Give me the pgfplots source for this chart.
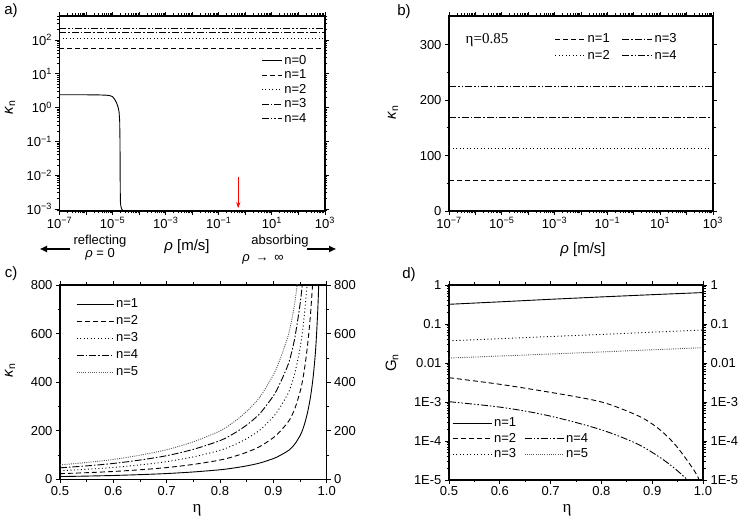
\documentclass[border=0pt]{standalone}
\usepackage{fontspec}
\setmainfont{Liberation Sans}
\newfontfamily\serif{Liberation Serif}
\usepackage{pgfplots}
\pgfplotsset{compat=1.18}
\usetikzlibrary{arrows.meta}

% minor tick lists for the log axes
\def\logminx{1e-7}
\foreach \e in {-7,...,2}{\foreach \m in {2,...,9}{\xdef\logminx{\logminx,\m e\e}}}
\def\logminya{1e-4}
\foreach \e in {-4,...,2}{\foreach \m in {2,...,9}{\xdef\logminya{\logminya,\m e\e}}}
\def\logminyd{1e-5}
\foreach \e in {-5,...,-1}{\foreach \m in {2,...,9}{\xdef\logminyd{\logminyd,\m e\e}}}

\newcommand\tk{\fontsize{13}{14}\selectfont}
\newcommand\lgd{\fontsize{13}{14}\selectfont}
\newcommand\lb{\fontsize{15}{16}\selectfont}

\tikzset{
  l0/.style={solid, line width=0.9pt},
  l1/.style={dash pattern=on 5pt off 3pt, line width=0.9pt},
  l2/.style={dash pattern=on 1pt off 2.5pt, line width=0.9pt},
  l3/.style={dash pattern=on 7pt off 2pt on 1.5pt off 2pt, line width=0.9pt},
  l4/.style={dash pattern=on 7pt off 2pt on 1.5pt off 2pt on 1.5pt off 2pt, line width=0.9pt},
  l5/.style={dash pattern=on 1pt off 1.2pt, line width=0.9pt, black!65},
}

\pgfplotsset{
  panel/.style={
    scale only axis, anchor=south west,
    axis line style={line width=1.4pt},
    every tick/.style={black, line width=0.8pt},
    major tick length=4pt, minor tick length=2.5pt,
    tick align=outside,
    ticklabel style={font=\tk},
    xticklabel style={yshift=1pt},
    /pgf/number format/assume math mode=true,
    legend style={draw=none, fill=none, font=\lgd, row sep=0pt, inner sep=0pt},
    legend cell align=left,
  },
}

\begin{document}
\begin{tikzpicture}
\path[use as bounding box] (0,0) rectangle (750pt,524pt);

% ---------------- a)
\begin{axis}[panel, at={(59.5pt,313pt)}, width=265.5pt, height=195pt,
  xmode=log, ymode=log, xmin=1e-7, xmax=1e3, ymin=8.7e-4, ymax=513,
  xtick={1e-7,1e-6,1e-5,1e-4,1e-3,1e-2,1e-1,1e0,1e1,1e2,1e3},
  xticklabels={10\textsuperscript{−7},,10\textsuperscript{−5},,10\textsuperscript{−3},,10\textsuperscript{−1},,10\textsuperscript{1},,10\textsuperscript{3}},
  minor xtick/.expand once=\logminx,
  ytick={1e-3,1e-2,1e-1,1,10,100},
  yticklabels={10\textsuperscript{−3},10\textsuperscript{−2},10\textsuperscript{−1},10\textsuperscript{0},10\textsuperscript{1},10\textsuperscript{2}},
  minor ytick/.expand once=\logminya,
  legend image code/.code={\draw[#1] (0pt,0pt) -- (20pt,0pt);},
  legend style={at={(0.76,0.81)}, anchor=north west},
]
\addplot[l0] coordinates {
  (1e-7,2.40) (1e-6,2.39) (3e-6,2.37) (6e-6,2.32) (8e-6,2.25) (1e-5,2.1)
  (1.2e-5,1.75) (1.4e-5,1.4) (1.6e-5,1.05) (1.75e-5,0.75) (1.85e-5,0.4)
  (1.9e-5,0.1) (1.92e-5,0.02) (1.94e-5,0.004) (1.97e-5,0.0016)
  (2.05e-5,0.0012) (2.2e-5,0.001) (2.6e-5,0.0008)
}; \addlegendentry{n=0}
\addplot[l1] coordinates {(1e-7,56) (1e3,56)}; \addlegendentry{n=1}
\addplot[l2] coordinates {(1e-7,113) (1e3,113)}; \addlegendentry{n=2}
\addplot[l3] coordinates {(1e-7,169) (1e3,169)}; \addlegendentry{n=3}
\addplot[l4] coordinates {(1e-7,225) (1e3,225)}; \addlegendentry{n=4}
\draw[red, line width=1pt, -{Stealth[length=6pt,width=4pt]}] (axis cs:0.54,0.009) -- (axis cs:0.54,0.00105);
\end{axis}

% ---------------- b)
\begin{axis}[panel, at={(449pt,313pt)}, width=264pt, height=195pt,
  xmode=log, xmin=1e-7, xmax=1e3, ymin=0, ymax=352,
  xtick={1e-7,1e-6,1e-5,1e-4,1e-3,1e-2,1e-1,1e0,1e1,1e2,1e3},
  xticklabels={10\textsuperscript{−7},,10\textsuperscript{−5},,10\textsuperscript{−3},,10\textsuperscript{−1},,10\textsuperscript{1},,10\textsuperscript{3}},
  minor xtick/.expand once=\logminx,
  ytick={0,100,200,300}, minor y tick num=1,
  legend columns=2,
  legend image code/.code={\draw[#1] (0pt,0pt) -- (30pt,0pt);},
  legend style={at={(0.40,0.92)}, anchor=north west, row sep=2pt, /tikz/every even column/.append style={column sep=10pt}},
]
\addplot[l1] coordinates {(1e-7,56) (1e3,56)}; \addlegendentry{n=1}
\addplot[l3] coordinates {(1e-7,169) (1e3,169)}; \addlegendentry{n=3}
\addplot[l2] coordinates {(1e-7,113) (1e3,113)}; \addlegendentry{n=2}
\addplot[l4] coordinates {(1e-7,225) (1e3,225)}; \addlegendentry{n=4}
\end{axis}

% ---------------- c)
\begin{axis}[panel, at={(60pt,44.5pt)}, width=266.7pt, height=194.5pt,
  xmin=0.5, xmax=1, ymin=0, ymax=800,
  xtick={0.5,0.6,0.7,0.8,0.9,1.0}, minor x tick num=1,
  xticklabel style={/pgf/number format/.cd, fixed, fixed zerofill, precision=1},
  ytick={0,200,400,600,800}, minor y tick num=1,
  legend image code/.code={\draw[#1] (0pt,0pt) -- (37pt,0pt);},
  legend style={at={(0.06,0.94)}, anchor=north west, row sep=2.5pt},
]
\addplot[l0, smooth] coordinates {
  (0.5,12) (0.55,14) (0.6,16.5) (0.65,20) (0.7,24.5) (0.75,31) (0.8,40) (0.825,47)
  (0.85,56) (0.875,68) (0.9,86) (0.91,96) (0.92,108) (0.93,122) (0.94,145) (0.95,180)
  (0.955,205) (0.96,240) (0.965,285) (0.97,345) (0.975,430) (0.98,560) (0.985,800) (0.99,1300)
}; \addlegendentry{n=1}
\addplot[l1, smooth] coordinates {
  (0.5,24) (0.55,28) (0.6,33) (0.65,40) (0.7,49) (0.75,62) (0.8,80) (0.825,94)
  (0.85,112) (0.875,136) (0.9,172) (0.91,192) (0.92,216) (0.93,244) (0.94,290) (0.95,360)
  (0.955,410) (0.96,480) (0.965,570) (0.97,690) (0.975,860) (0.98,1120)
}; \addlegendentry{n=2}
\addplot[l2, smooth] coordinates {
  (0.5,36) (0.55,42) (0.6,49.5) (0.65,60) (0.7,73.5) (0.75,93) (0.8,120) (0.825,141)
  (0.85,168) (0.875,204) (0.9,258) (0.91,288) (0.92,324) (0.93,366) (0.94,435) (0.95,540)
  (0.955,615) (0.96,720) (0.965,855) (0.97,1035)
}; \addlegendentry{n=3}
\addplot[l3, smooth] coordinates {
  (0.5,48) (0.55,56) (0.6,66) (0.65,80) (0.7,98) (0.75,124) (0.8,160) (0.825,188)
  (0.85,224) (0.875,272) (0.9,344) (0.91,384) (0.92,432) (0.93,488) (0.94,580) (0.95,720)
  (0.955,820) (0.96,960)
}; \addlegendentry{n=4}
\addplot[l5, smooth] coordinates {
  (0.5,60) (0.55,70) (0.6,82.5) (0.65,100) (0.7,122.5) (0.75,155) (0.8,200) (0.825,235)
  (0.85,280) (0.875,340) (0.9,430) (0.91,480) (0.92,540) (0.93,610) (0.94,725) (0.95,900)
}; \addlegendentry{n=5}
\end{axis}
\begin{axis}[panel, at={(60pt,44.5pt)}, width=266.7pt, height=194.5pt,
  xmin=0.5, xmax=1, ymin=0, ymax=800, axis x line=none, axis y line*=right,
  ytick={0,200,400,600,800}, minor y tick num=1]
\addplot[draw=none] coordinates {(0.5,0)};
\end{axis}

% ---------------- d)
\begin{axis}[panel, at={(449pt,44pt)}, width=254pt, height=195pt,
  ymode=log, xmin=0.5, xmax=1, ymin=1e-5, ymax=1,
  xtick={0.5,0.6,0.7,0.8,0.9,1.0}, minor x tick num=1,
  xticklabel style={/pgf/number format/.cd, fixed, fixed zerofill, precision=1},
  ytick={1e-5,1e-4,1e-3,1e-2,1e-1,1},
  yticklabels={1E-5,1E-4,1E-3,0.01,0.1,1},
  minor ytick/.expand once=\logminyd,
  legend columns=2,
  legend image code/.code={\draw[#1] (0pt,0pt) -- (39pt,0pt);},
  legend style={at={(0.012,0.33)}, anchor=north west, row sep=1pt, /tikz/every even column/.append style={column sep=6pt}},
]
\addplot[l0] coordinates {(0.5,0.32) (0.6,0.37) (0.7,0.43) (0.8,0.495) (0.9,0.565) (1.0,0.64)}; \addlegendentry{n=1}
\addlegendimage{empty legend}\addlegendentry{}
\addplot[l1, smooth] coordinates {
  (0.5,4.2e-3) (0.612,2.7e-3) (0.745,1.4e-3) (0.81,9.2e-4) (0.876,4.2e-4) (0.912,2.1e-4)
  (0.942,9e-5) (0.968,3.3e-5) (0.99,1.2e-5) (0.995,6e-6)
}; \addlegendentry{n=2}
\addplot[l4, smooth] coordinates {
  (0.5,1.02e-3) (0.6,7.4e-4) (0.678,5.0e-4) (0.745,3.1e-4) (0.81,1.75e-4) (0.875,7.9e-5)
  (0.928,2.9e-5) (0.968,1.05e-5) (0.975,7e-6)
}; \addlegendentry{n=4}
\addplot[l2] coordinates {(0.5,0.037) (0.6,0.042) (0.7,0.0478) (0.8,0.054) (0.9,0.0617) (1.0,0.070)}; \addlegendentry{n=3}
\addplot[l5] coordinates {(0.5,0.0134) (0.6,0.0151) (0.7,0.017) (0.8,0.0192) (0.9,0.0218) (1.0,0.0247)}; \addlegendentry{n=5}
\end{axis}
\begin{axis}[panel, at={(449pt,44pt)}, width=254pt, height=195pt,
  ymode=log, xmin=0.5, xmax=1, ymin=1e-5, ymax=1, axis x line=none, axis y line*=right,
  ytick={1e-5,1e-4,1e-3,1e-2,1e-1,1},
  yticklabels={1E-5,1E-4,1E-3,0.01,0.1,1},
  minor ytick/.expand once=\logminyd]
\addplot[draw=none] coordinates {(0.5,1e-3)};
\end{axis}

% ---------------- texts outside the axes
\node[font=\fontsize{15}{16}\selectfont] at (11pt,513pt) {a)};
\node[font=\fontsize{15}{16}\selectfont] at (404pt,512pt) {b)};
\node[font=\fontsize{15}{16}\selectfont] at (11pt,250pt) {c)};
\node[font=\fontsize{15}{16}\selectfont] at (409pt,249pt) {d)};

\node[font=\lb, rotate=90] at (10pt,417pt) {\textit{κ}\textsubscript{n}};
\node[font=\lb, rotate=90] at (393pt,412pt) {\textit{κ}\textsubscript{n}};
\node[font=\lb, rotate=90] at (10pt,154pt) {\textit{κ}\textsubscript{n}};
\node[font=\lb, rotate=90] at (392pt,161pt) {G\textsubscript{n}};

\node[font=\lgd, inner sep=0pt] at (100pt,283pt) {reflecting};
\node[font=\lgd, inner sep=0pt] at (100pt,270pt) {\textit{ρ} = 0};
\node[font=\lb] at (187pt,277pt) {\textit{ρ} [m/s]};
\node[font=\lgd, inner sep=0pt] at (280pt,283pt) {absorbing};
\node[font=\lgd, inner sep=0pt] at (263pt,265pt) {\textit{ρ} \,→\, ∞};
\draw[line width=2pt, -{Triangle[length=7pt,width=6pt]}] (70pt,275pt) -- (40pt,275pt);
\draw[line width=2pt, -{Triangle[length=7pt,width=6pt]}] (307pt,275pt) -- (336pt,275pt);

\node[font=\lb] at (583pt,274pt) {\textit{ρ} [m/s]};
\node[font=\serif\fontsize{15}{16}\selectfont] at (487pt,484pt) {η=0.85};

\node[font=\serif\fontsize{17}{18}\selectfont] at (197pt,14pt) {η};
\node[font=\serif\fontsize{17}{18}\selectfont] at (567pt,14pt) {η};
\end{tikzpicture}
\end{document}
